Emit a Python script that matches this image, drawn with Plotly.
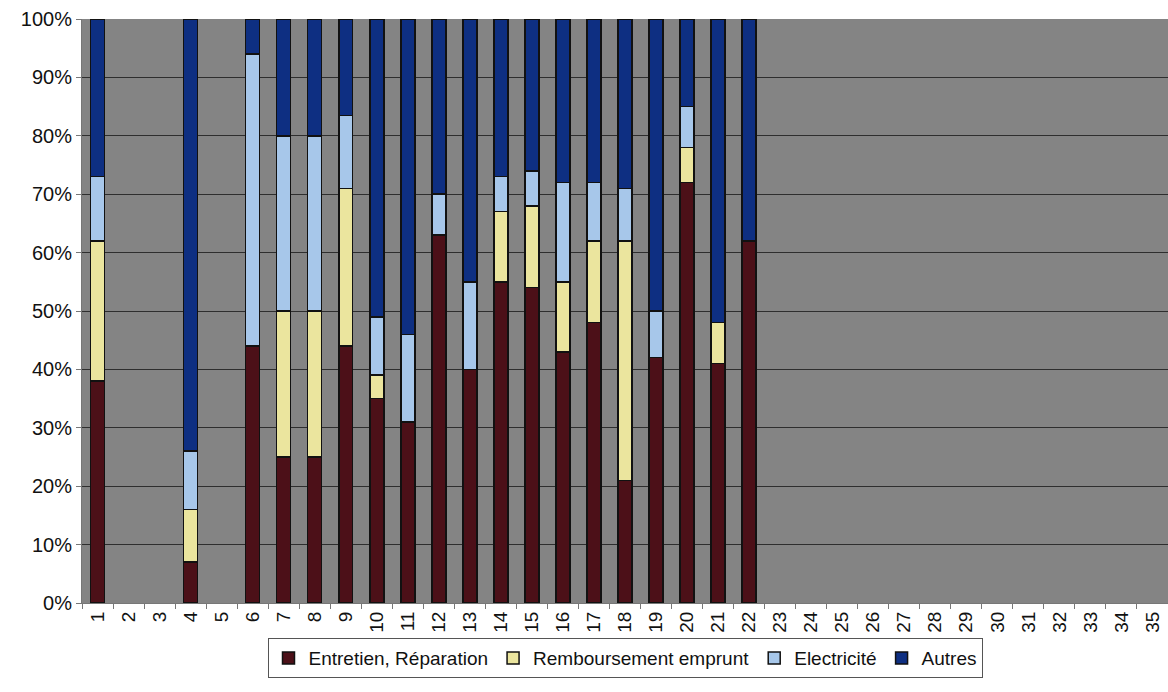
import plotly.graph_objects as go

# Catégories (1 à 35) et parts des dépenses, en % (None = pas de dépense)
categories = [str(i) for i in range(1, 36)]

entretien = [38, None, None, 7, None, 44, 25, 25, 44, 35, 31, 63, 40, 55, 54, 43, 48, 21, 42, 72, 41, 62]
remboursement = [24, None, None, 9, None, None, 25, 25, 27, 4, None, None, None, 12, 14, 12, 14, 41, None, 6, 7, None]
electricite = [11, None, None, 10, None, 50, 30, 30, 12.5, 10, 15, 7, 15, 6, 6, 17, 10, 9, 8, 7, None, None]
autres = [27, None, None, 74, None, 6, 20, 20, 16.5, 51, 54, 30, 45, 27, 26, 28, 28, 29, 50, 15, 52, 38]

series = [
    ("Entretien, Réparation", entretien, "#4c1018"),
    ("Remboursement emprunt", remboursement, "#ebe59e"),
    ("Electricité", electricite, "#a7c7ea"),
    ("Autres", autres, "#0e2f82"),
]

font_family = "Liberation Sans, Arial, sans-serif"

fig = go.Figure()
for name, values, color in series:
    fig.add_trace(go.Bar(
        name=name,
        x=categories[:len(values)],
        y=values,
        marker=dict(color=color, line=dict(color="#111111", width=1.5)),
        width=0.45,
    ))

fig.update_layout(
    barmode="stack",
    width=1168,
    height=692,
    margin=dict(l=82, r=0, t=19, b=89),
    paper_bgcolor="#ffffff",
    plot_bgcolor="#848484",
    font=dict(family=font_family, size=19, color="#111111"),
    showlegend=True,
    legend=dict(
        orientation="h",
        x=0.5,
        xanchor="center",
        y=-0.06,
        yanchor="top",
        bordercolor="#555555",
        borderwidth=1,
        bgcolor="#ffffff",
        font=dict(size=19),
        traceorder="normal",
        itemwidth=30,
    ),
)

fig.update_xaxes(
    type="category",
    categoryorder="array",
    categoryarray=categories,
    range=[-0.5, 34.5],
    tickangle=-90,
    tickson="boundaries",
    ticks="outside",
    ticklen=5,
    tickcolor="#777777",
    showline=True,
    linecolor="#777777",
    linewidth=1,
    showgrid=False,
    tickfont=dict(size=19),
)

fig.update_yaxes(
    range=[0, 100],
    tickvals=list(range(0, 101, 10)),
    ticktext=[f"{v}%" for v in range(0, 101, 10)],
    ticks="outside",
    ticklen=5,
    tickcolor="#777777",
    showline=True,
    linecolor="#777777",
    linewidth=1,
    showgrid=True,
    gridcolor="#2e2e2e",
    gridwidth=1,
    zeroline=False,
    tickfont=dict(size=20),
)

fig.write_html("out.html")
